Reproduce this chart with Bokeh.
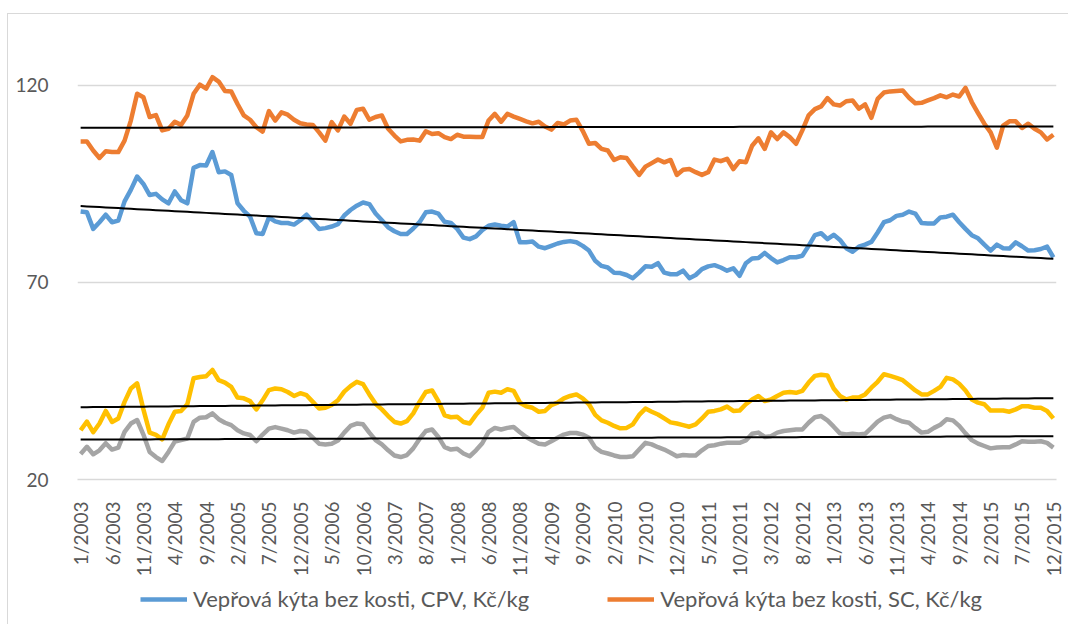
import numpy as np
from bokeh.plotting import figure
from bokeh.layouts import column
from bokeh.models import Range1d, FixedTicker, Legend, LegendItem
from bokeh.embed import file_html
from bokeh.resources import INLINE

# ---- data -------------------------------------------------------------
months = [f"{m}/{y}" for y in range(2003, 2016) for m in range(1, 13)]

cpv = [88.0, 87.8, 83.6, 85.3, 87.2, 85.3, 85.7, 90.6, 93.5, 96.9,
       95.0, 92.2, 92.5, 91.1, 90.1, 93.1, 90.9, 90.1, 99.1, 99.8,
       99.7, 103.1, 98.0, 98.2, 97.3, 90.1, 88.2, 86.7, 82.5, 82.3,
       86.5, 85.5, 85.1, 85.1, 84.7, 85.8, 87.2, 85.4, 83.6, 83.8,
       84.2, 84.8, 87.0, 88.4, 89.5, 90.3, 89.9, 87.5, 85.8, 84.0,
       83.0, 82.3, 82.3, 83.7, 85.3, 87.8, 88.0, 87.5, 85.4, 85.1,
       83.6, 81.4, 81.0, 81.7, 83.3, 84.4, 84.7, 84.4, 84.2, 85.3,
       80.2, 80.2, 80.4, 79.1, 78.7, 79.3, 79.9, 80.3, 80.5, 80.2,
       79.3, 78.1, 75.5, 74.2, 73.8, 72.5, 72.4, 71.9, 71.1, 72.5,
       74.1, 74.0, 74.9, 72.5, 72.1, 72.1, 73.0, 71.1, 71.9, 73.4,
       74.1, 74.4, 73.8, 73.0, 73.6, 71.7, 74.9, 76.1, 76.2, 77.5,
       76.2, 75.1, 75.7, 76.4, 76.4, 76.8, 79.3, 82.0, 82.5, 81.0,
       82.1, 80.8, 78.7, 77.8, 79.1, 79.6, 80.3, 82.7, 85.3, 85.8,
       86.9, 87.2, 88.0, 87.5, 85.1, 85.0, 85.0, 86.5, 86.7, 87.2,
       85.3, 83.6, 82.0, 81.2, 79.6, 78.1, 79.6, 78.7, 78.6, 80.2,
       79.2, 78.1, 78.2, 78.5, 79.1, 76.4]

sc = [105.8, 105.8, 103.5, 101.6, 103.3, 103.1, 103.1, 106.0, 111.1, 117.9,
      117.0, 112.0, 112.5, 108.6, 109.0, 110.8, 110.0, 112.4, 117.9, 120.2,
      119.2, 122.1, 121.0, 118.6, 118.5, 115.3, 112.4, 111.3, 109.4, 108.3,
      113.5, 111.1, 113.2, 112.6, 111.3, 110.4, 110.1, 110.0, 108.1, 106.0,
      110.7, 108.6, 112.1, 110.3, 113.8, 114.1, 111.3, 112.0, 112.4, 109.0,
      107.3, 105.8, 106.2, 106.3, 106.0, 108.4, 107.7, 107.9, 106.9, 106.4,
      107.5, 107.0, 107.0, 106.9, 106.9, 111.1, 112.8, 110.8, 112.8, 112.1,
      111.5, 110.9, 110.4, 110.8, 109.6, 108.8, 110.5, 110.1, 111.1, 111.3,
      108.5, 105.2, 105.4, 103.9, 103.5, 101.1, 101.8, 101.6, 99.4, 97.3,
      99.4, 100.3, 101.2, 100.5, 101.1, 97.3, 98.6, 98.8, 98.0, 97.3,
      98.0, 101.2, 100.8, 101.4, 98.8, 100.8, 100.5, 104.7, 106.6, 103.9,
      108.1, 106.4, 108.1, 106.9, 105.2, 108.6, 112.4, 114.0, 114.7, 116.8,
      115.2, 114.9, 116.0, 116.2, 114.1, 115.2, 111.8, 116.6, 118.2, 118.5,
      118.6, 118.7, 116.9, 115.5, 115.6, 116.2, 116.8, 117.5, 117.0, 117.7,
      117.2, 119.4, 115.8, 113.0, 110.3, 108.1, 104.2, 109.8, 110.9, 110.9,
      109.2, 110.3, 109.0, 108.1, 106.3, 107.5]

yellow = [32.5, 34.7, 32.0, 34.2, 37.4, 34.6, 35.5, 39.7, 43.1, 44.4,
          37.8, 31.9, 31.3, 30.2, 34.0, 37.2, 37.4, 39.1, 45.7, 46.0,
          46.2, 47.8, 45.2, 44.6, 43.5, 40.8, 40.6, 39.9, 37.8, 40.1,
          42.7, 43.1, 42.9, 42.2, 41.2, 41.9, 41.4, 39.7, 38.0, 38.2,
          38.9, 40.1, 42.3, 43.7, 44.8, 44.2, 41.6, 39.2, 37.8, 36.1,
          34.6, 34.2, 34.8, 36.8, 39.7, 42.2, 42.6, 39.9, 36.3, 35.8,
          35.9, 34.6, 34.2, 36.4, 38.2, 42.0, 42.3, 42.0, 42.9, 42.5,
          39.5, 38.6, 38.2, 37.2, 37.4, 38.9, 39.5, 40.6, 41.2, 41.6,
          40.6, 39.1, 36.4, 35.0, 34.4, 33.6, 33.0, 33.1, 34.0, 36.4,
          38.0, 37.2, 36.5, 35.5, 34.5, 34.2, 33.8, 33.4, 34.0, 35.5,
          37.2, 37.4, 37.8, 38.5, 37.4, 37.5, 39.1, 40.3, 41.2, 39.9,
          40.3, 41.2, 42.0, 42.2, 42.0, 42.5, 44.6, 46.3, 46.6, 46.4,
          43.1, 41.2, 40.3, 40.8, 40.8, 41.6, 43.3, 44.8, 46.7, 46.3,
          45.8, 45.2, 43.9, 42.6, 41.6, 41.6, 42.5, 43.5, 45.8, 45.4,
          44.3, 42.6, 40.3, 39.5, 39.1, 37.5, 37.5, 37.5, 37.2, 37.8,
          38.6, 38.6, 38.2, 38.2, 37.4, 35.5]

gray = [26.5, 28.3, 26.4, 27.4, 29.2, 27.6, 28.1, 32.1, 34.2, 35.1,
        31.4, 27.0, 25.7, 24.7, 27.0, 29.6, 30.0, 30.4, 34.6, 35.7,
        35.8, 36.8, 35.3, 34.4, 33.8, 32.5, 31.7, 31.3, 29.7, 31.4,
        32.9, 33.3, 32.9, 32.5, 31.9, 32.3, 32.1, 30.6, 29.1, 28.9,
        29.1, 29.9, 31.9, 33.6, 34.2, 34.0, 31.9, 30.0, 28.9, 27.4,
        26.1, 25.7, 26.2, 27.9, 30.3, 32.3, 32.7, 30.8, 28.2, 27.6,
        27.8, 26.6, 25.9, 27.4, 29.2, 32.1, 33.1, 32.7, 33.1, 33.3,
        32.0, 30.8, 29.9, 29.1, 28.9, 29.7, 30.6, 31.4, 31.8, 31.8,
        31.4, 30.6, 28.1, 27.0, 26.6, 26.1, 25.7, 25.7, 25.9, 27.6,
        29.3, 28.9, 28.2, 27.6, 26.8, 25.9, 26.2, 26.1, 26.1, 27.4,
        28.5, 28.7, 29.1, 29.3, 29.3, 29.3, 29.9, 31.6, 31.9, 30.8,
        31.0, 31.9, 32.3, 32.5, 32.7, 32.7, 34.4, 35.8, 36.1, 35.0,
        33.4, 31.7, 31.4, 31.6, 31.4, 31.6, 33.1, 34.7, 35.7, 36.1,
        35.3, 34.7, 34.4, 33.1, 31.9, 32.1, 33.1, 33.9, 35.3, 35.0,
        33.6, 31.7, 30.0, 29.1, 28.5, 27.9, 28.1, 28.2, 28.2, 28.9,
        29.7, 29.6, 29.6, 29.7, 29.3, 28.1]

y_ticks = [20, 70, 120]
legend_labels = ["Vepřová kýta bez kosti, CPV, Kč/kg",
                 "Vepřová kýta bez kosti, SC, Kč/kg"]

# ---- styles -------------------------------------------------------------
FONT = "Lato"
TXT = "#595959"
C_CPV, C_SC, C_GRAY, C_YEL = "#5B9BD5", "#ED7D31", "#A5A5A5", "#FFC000"
LW = 4.5
x = np.arange(len(months))

# ---- main figure --------------------------------------------------------
p = figure(width=1060, height=571, output_backend="svg", toolbar_location=None,
           x_range=Range1d(-0.5, len(months) - 0.5), y_range=Range1d(20, 137.0),
           min_border_left=69, min_border_right=12, min_border_top=4,
           min_border_bottom=106)
p.outline_line_color = None
p.background_fill_color = "white"
p.border_fill_color = "white"

p.xgrid.visible = False
p.ygrid.ticker = FixedTicker(ticks=y_ticks)
p.ygrid.grid_line_color = "#D9D9D9"
p.ygrid.grid_line_width = 1.3

p.yaxis.ticker = FixedTicker(ticks=y_ticks)
p.yaxis.axis_line_color = None
p.yaxis.major_tick_line_color = None
p.yaxis.minor_tick_line_color = None
p.yaxis.major_label_standoff = 23
p.yaxis.major_label_text_font = FONT
p.yaxis.major_label_text_font_size = "19px"
p.yaxis.major_label_text_color = TXT

tick_idx = list(range(0, len(months), 5))
p.xaxis.ticker = FixedTicker(ticks=tick_idx)
p.xaxis.major_label_overrides = {i: months[i] for i in tick_idx}
p.xaxis.major_label_orientation = np.pi / 2
p.xaxis.axis_line_color = "#D9D9D9"
p.xaxis.axis_line_width = 1.3
p.xaxis.major_tick_line_color = None
p.xaxis.minor_tick_line_color = None
p.xaxis.major_label_standoff = 16
p.xaxis.major_label_text_font = FONT
p.xaxis.major_label_text_font_size = "19px"
p.xaxis.major_label_text_color = TXT

p.line(x, cpv, line_color=C_CPV, line_width=LW, line_join="round")
p.line(x, sc, line_color=C_SC, line_width=LW, line_join="round")
p.line(x, gray, line_color=C_GRAY, line_width=LW, line_join="round")
p.line(x, yellow, line_color=C_YEL, line_width=LW, line_join="round")

# linear trend lines (least squares fit of each series)
for s in (cpv, sc, yellow, gray):
    k, q = np.polyfit(x, s, 1)
    p.line(x, k * x + q, line_color="black", line_width=2)

# ---- legend strip (series drawn out of view, only the legend shows) -----
lg = figure(width=1060, height=39, output_backend="svg", toolbar_location=None,
            x_range=Range1d(-0.5, len(months) - 0.5), y_range=Range1d(0, 1),
            x_axis_type=None, y_axis_type=None,
            min_border_left=69, min_border_right=12, min_border_top=0,
            min_border_bottom=0)
lg.outline_line_color = None
lg.grid.visible = False
k_cpv = lg.line(x, cpv, line_color=C_CPV, line_width=LW)
k_sc = lg.line(x, sc, line_color=C_SC, line_width=LW)

legend = Legend(items=[LegendItem(label=legend_labels[0], renderers=[k_cpv]),
                       LegendItem(label=legend_labels[1], renderers=[k_sc])],
                orientation="horizontal", location=(63, 12),
                glyph_width=47, glyph_height=20, label_height=20,
                label_standoff=6, spacing=78, padding=0, margin=0,
                border_line_alpha=0, background_fill_alpha=0,
                label_text_font=FONT, label_text_font_size="22px",
                label_text_color=TXT)
lg.add_layout(legend)

layout = column(p, lg, spacing=0, margin=(13, 0, 0, 7),
                styles={"border-left": "1px solid #D9D9D9",
                        "border-top": "1px solid #D9D9D9"})
open("out.html", "w").write(file_html(layout, INLINE))
